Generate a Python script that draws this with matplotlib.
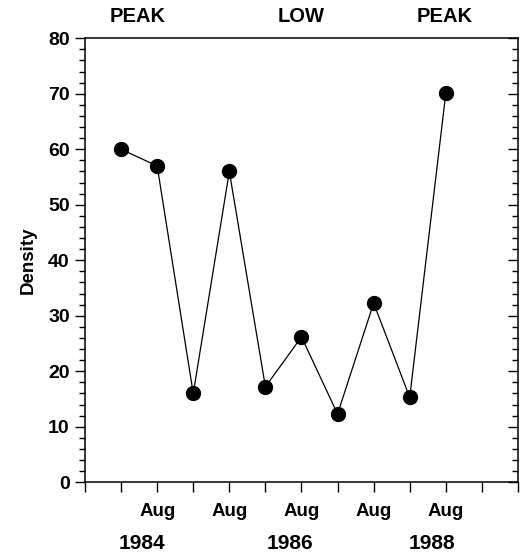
import matplotlib
matplotlib.use("Agg")
import matplotlib.pyplot as plt
from matplotlib.ticker import MultipleLocator

plt.rcParams['font.family'] = ['Liberation Sans', 'DejaVu Sans']
plt.rcParams['font.weight'] = 'bold'

# data
x_pos = [1, 2, 3, 4, 5, 6, 7, 8, 9, 10]
density = [60, 57, 16, 56, 17.2, 26.2, 12.3, 32.3, 15.3, 70.1]
month_ticks = [2, 4, 6, 8, 10]
month_labels = ["Aug", "Aug", "Aug", "Aug", "Aug"]
year_pos = [1.57, 5.69, 9.62]
year_labels = ["1984", "1986", "1988"]
phase_pos = [1.47, 6.0, 9.96]
phase_labels = ["PEAK", "LOW", "PEAK"]

fig = plt.figure(figsize=(5.28, 5.55), dpi=100)
ax = fig.add_axes([0.161, 0.131, 0.82, 0.80])

ax.plot(x_pos, density, color='black', lw=0.9, marker='o', markersize=10,
        markerfacecolor='black', markeredgecolor='black')

ax.set_xlim(0, 12)
ax.set_ylim(0, 80)

ax.yaxis.set_major_locator(MultipleLocator(10))
ax.yaxis.set_minor_locator(MultipleLocator(2))
ax.xaxis.set_major_locator(MultipleLocator(1))
ax.set_xticklabels([])

ax.tick_params(axis='y', which='major', direction='out', length=7, width=1,
               labelsize=14, right=True, pad=4)
ax.tick_params(axis='y', which='minor', direction='out', length=4, width=1, right=True)
ax.tick_params(axis='x', which='major', direction='out', length=7, width=1)
for lab in ax.get_yticklabels():
    lab.set_fontweight('bold')

# right-side ticks inward
for t in ax.yaxis.get_major_ticks() + ax.yaxis.get_minor_ticks():
    t.tick2line.set_marker(matplotlib.lines.TICKLEFT)

for s in ax.spines.values():
    s.set_linewidth(1.1)

for xp, lab in zip(month_ticks, month_labels):
    ax.text(xp, -0.066, lab, transform=ax.get_xaxis_transform(), ha='center', va='center',
            fontsize=13.5, fontweight='bold')
for xp, lab in zip(year_pos, year_labels):
    ax.text(xp, -0.137, lab, transform=ax.get_xaxis_transform(), ha='center', va='center',
            fontsize=15, fontweight='bold')
for xp, lab in zip(phase_pos, phase_labels):
    ax.text(xp, 1.048, lab, transform=ax.get_xaxis_transform(), ha='center', va='center',
            fontsize=14.5, fontweight='bold')

ax.set_ylabel("Density", fontsize=13.5, fontweight='bold', labelpad=8)

fig.savefig("out.png", dpi=100)
